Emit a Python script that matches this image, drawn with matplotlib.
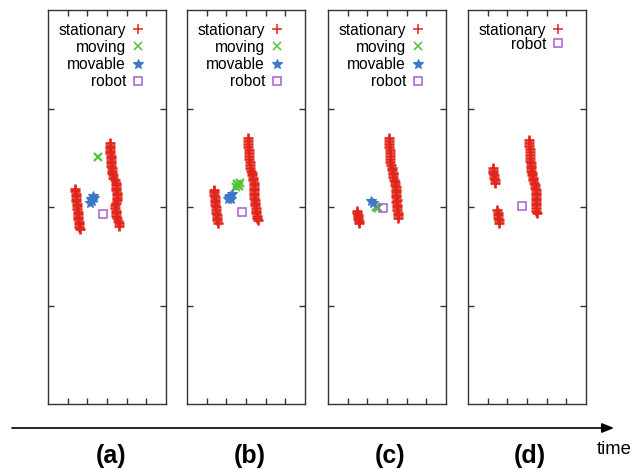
import matplotlib
matplotlib.use("Agg")
import matplotlib.pyplot as plt
from matplotlib.patches import FancyArrowPatch

plt.rcParams['font.family'] = ['Liberation Sans', 'DejaVu Sans']

# ---- tracked objects per snapshot (x, y in metres) ----
panel_tags = ["(a)", "(b)", "(c)", "(d)"]

# snapshot (a)
a_stat_x = [1.37, 1.39, 1.40, 1.41, 1.42, 1.44, 1.45, 1.47, 1.49, 1.50, 1.52, 1.53, 1.55, 1.56, 1.58, 1.60, 1.63,
            3.15, 3.16, 3.16, 3.17, 3.17, 3.18, 3.18, 3.19, 3.20, 3.21, 3.23, 3.25, 3.26, 3.28, 3.30,
            3.43, 3.46, 3.47, 3.47, 3.48, 3.49, 3.50, 3.51, 3.51, 3.48,
            3.41, 3.42, 3.44, 3.46, 3.48, 3.52, 3.56, 3.59, 3.61]
a_stat_y = [2.18, 2.16, 2.13, 2.11, 2.08, 2.06, 2.03, 2.01, 1.98, 1.95, 1.93, 1.90, 1.88, 1.85, 1.83, 1.80, 1.78,
            2.65, 2.62, 2.60, 2.57, 2.55, 2.52, 2.50, 2.47, 2.45, 2.42, 2.40, 2.37, 2.35, 2.32, 2.29,
            2.27, 2.24, 2.22, 2.19, 2.17, 2.14, 2.12, 2.09, 2.07, 2.04,
            2.02, 1.99, 1.96, 1.94, 1.91, 1.89, 1.86, 1.84, 1.81]
a_moving_x = [2.54]
a_moving_y = [2.51]
a_movable_x = [2.14, 2.19, 2.29, 2.24, 2.34]
a_movable_y = [2.04, 2.08, 2.11, 2.06, 2.09]
a_robot_x = [2.80]
a_robot_y = [1.93]

# snapshot (b)
b_stat_x = [1.37, 1.39, 1.38, 1.40, 1.41, 1.42, 1.44, 1.45, 1.47, 1.49, 1.51, 1.53, 1.55, 1.58,
            3.10, 3.11, 3.11, 3.12, 3.13, 3.14, 3.15, 3.17, 3.18, 3.19, 3.21, 3.25, 3.31, 3.33,
            3.36, 3.38, 3.39, 3.40, 3.41, 3.42, 3.42, 3.42, 3.43, 3.46, 3.47, 3.48, 3.50, 3.51,
            3.52, 3.55, 3.57, 3.59]
b_stat_y = [2.17, 2.15, 2.12, 2.10, 2.07, 2.05, 2.02, 2.00, 1.97, 1.94, 1.92, 1.89, 1.87, 1.84,
            2.70, 2.67, 2.64, 2.61, 2.58, 2.55, 2.52, 2.49, 2.46, 2.43, 2.40, 2.37, 2.35, 2.32,
            2.29, 2.27, 2.24, 2.22, 2.19, 2.17, 2.14, 2.12, 2.09, 2.07, 2.04, 2.02, 1.99, 1.96,
            1.94, 1.91, 1.89, 1.87]
b_moving_x = [2.49, 2.59, 2.69, 2.64, 2.54]
b_moving_y = [2.20, 2.22, 2.24, 2.21, 2.23]
b_movable_x = [2.08, 2.19, 2.29, 2.14, 2.24]
b_movable_y = [2.08, 2.11, 2.13, 2.10, 2.08]
b_robot_x = [2.80]
b_robot_y = [1.95]

# snapshot (c)
c_stat_x = [1.48, 1.49, 1.52, 1.54, 1.55, 1.57, 1.58,
            3.10, 3.11, 3.11, 3.12, 3.13, 3.14, 3.14, 3.15, 3.16, 3.20, 3.23, 3.25, 3.28, 3.31,
            3.33, 3.38, 3.41, 3.42, 3.44, 3.45, 3.46, 3.47, 3.48, 3.49, 3.48, 3.50, 3.51, 3.52,
            3.54, 3.55, 3.56]
c_stat_y = [1.96, 1.94, 1.92, 1.90, 1.88, 1.86, 1.84,
            2.70, 2.67, 2.64, 2.61, 2.58, 2.55, 2.52, 2.49, 2.46, 2.43, 2.40, 2.38, 2.35, 2.33,
            2.30, 2.27, 2.25, 2.22, 2.20, 2.17, 2.15, 2.12, 2.10, 2.07, 2.05, 2.02, 2.00, 1.97,
            1.94, 1.92, 1.89]
c_moving_x = [2.44, 2.54]
c_moving_y = [2.00, 1.99]
c_movable_x = [2.19, 2.29]
c_movable_y = [2.06, 2.04]
c_robot_x = [2.80]
c_robot_y = [1.99]

# snapshot (d)
d_stat_x = [1.27, 1.29, 1.28, 1.30, 1.32, 1.35, 1.37,
            1.48, 1.50, 1.52, 1.54, 1.56, 1.58,
            3.10, 3.11, 3.12, 3.13, 3.13, 3.14, 3.15, 3.17, 3.18, 3.19, 3.20, 3.22, 3.24, 3.26,
            3.29, 3.33, 3.38, 3.41, 3.42, 3.44, 3.45, 3.46, 3.47, 3.48, 3.48, 3.46, 3.47, 3.48,
            3.51]
d_stat_y = [2.40, 2.37, 2.35, 2.32, 2.29, 2.27, 2.24,
            1.97, 1.94, 1.92, 1.89, 1.87, 1.84,
            2.68, 2.65, 2.62, 2.59, 2.56, 2.53, 2.50, 2.47, 2.45, 2.42, 2.40, 2.37, 2.35, 2.32,
            2.29, 2.27, 2.24, 2.22, 2.19, 2.17, 2.14, 2.12, 2.09, 2.07, 2.04, 2.02, 1.99, 1.96,
            1.94]
d_robot_x = [2.75]
d_robot_y = [2.01]

snapshots = [
    {"stationary": (a_stat_x, a_stat_y), "moving": (a_moving_x, a_moving_y),
     "movable": (a_movable_x, a_movable_y), "robot": (a_robot_x, a_robot_y)},
    {"stationary": (b_stat_x, b_stat_y), "moving": (b_moving_x, b_moving_y),
     "movable": (b_movable_x, b_movable_y), "robot": (b_robot_x, b_robot_y)},
    {"stationary": (c_stat_x, c_stat_y), "moving": (c_moving_x, c_moving_y),
     "movable": (c_movable_x, c_movable_y), "robot": (c_robot_x, c_robot_y)},
    {"stationary": (d_stat_x, d_stat_y), "robot": (d_robot_x, d_robot_y)},
]

styles = {
    "stationary": dict(marker="+", color="#e0261a", ms=6.5, mew=1.9),
    "moving": dict(marker="x", color="#4fc43a", ms=5.5, mew=1.6),
    "movable": dict(marker="*", color="#3b78c6", ms=7, mew=0.8),
    "robot": dict(marker="s", color="#a55fd2", ms=5.5, mew=1.1, mfc="none"),
}

W, H = 644, 469
fig = plt.figure(figsize=(W / 100, H / 100), dpi=100)

panel_left_px = [48, 187, 328, 468]
panel_w_px, panel_top_px, panel_bot_px = 118, 10, 404
label_x_px = [111, 250, 390, 530]

for i, snap in enumerate(snapshots):
    ax = fig.add_axes([panel_left_px[i] / W, (H - panel_bot_px) / H,
                       panel_w_px / W, (panel_bot_px - panel_top_px) / H])
    handles, names = [], []
    for name, (xs, ys) in snap.items():
        st = styles[name]
        ax.plot(xs, ys, ls="none", marker=st["marker"], color=st["color"],
                markersize=st["ms"], markeredgewidth=st["mew"],
                markerfacecolor=st.get("mfc", st["color"]))
        # thinner key in the legend
        key, = ax.plot([], [], ls="none", marker=st["marker"], color=st["color"],
                       markersize=st["ms"], markeredgewidth=min(st["mew"], 1.1),
                       markerfacecolor=st.get("mfc", st["color"]))
        handles.append(key)
        names.append(name)
    ax.set_xlim(0, 6)
    ax.set_ylim(0, 4)
    ax.set_xticks([1, 2, 3, 4, 5])
    ax.set_yticks([1, 2, 3])
    ax.tick_params(direction="in", length=4, width=1, color="#333333",
                   top=True, right=True, labelbottom=False, labelleft=False)
    for sp in ax.spines.values():
        sp.set_color("#333333")
        sp.set_linewidth(1.0)
    ax.legend(handles, names, loc="upper right", bbox_to_anchor=(0.818, 0.968),
              markerfirst=False, frameon=False, borderpad=0, borderaxespad=0,
              handlelength=0.8, handletextpad=0.39,
              labelspacing=0.14 if i < 3 else -0.05, fontsize=11.2, numpoints=1)
    fig.text(label_x_px[i] / W, 13 / H, panel_tags[i], ha="center", va="center",
             fontsize=18, fontweight="bold")

# time axis arrow
arrow = FancyArrowPatch((12 / W, 41 / H), (614 / W, 41 / H), transform=fig.transFigure,
                        arrowstyle="-|>,head_length=7.2,head_width=2.9", mutation_scale=1,
                        shrinkA=0, shrinkB=0, lw=1.2, color="black")
fig.add_artist(arrow)
fig.text(614 / W, 15 / H, "time", ha="center", va="baseline", fontsize=13.3)

fig.savefig("out.png", dpi=100)
